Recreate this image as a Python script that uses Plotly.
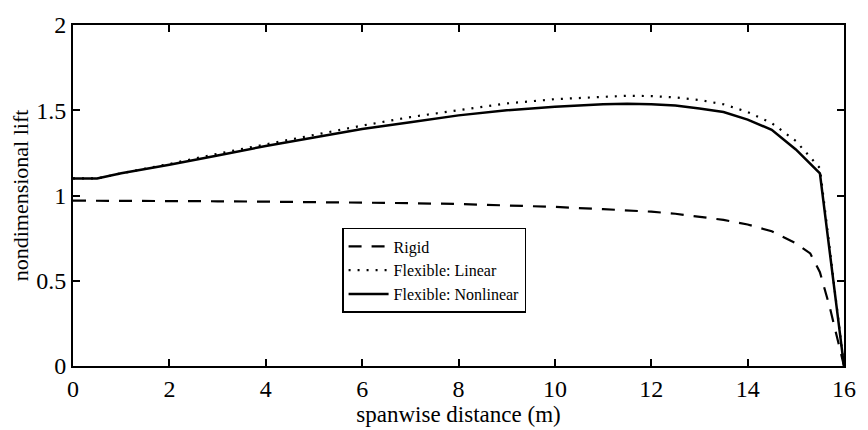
import plotly.graph_objects as go

# Data
x_rigid = [0, 1, 2, 3, 4, 5, 6, 7, 8, 9, 10, 11, 12, 12.5, 13, 13.5, 14, 14.5, 15, 15.3, 15.5, 15.7, 16]
y_rigid = [0.97, 0.97, 0.968, 0.966, 0.964, 0.962, 0.958, 0.955, 0.95, 0.943, 0.933, 0.92, 0.905, 0.893, 0.877, 0.857, 0.83, 0.79, 0.72, 0.66, 0.55, 0.35, 0.0]

x_lin = [0, 0.5, 1, 2, 3, 4, 5, 6, 7, 8, 9, 10, 11, 11.5, 12, 12.5, 13, 13.5, 14, 14.5, 15, 15.5, 16]
y_lin = [1.10, 1.10, 1.13, 1.185, 1.245, 1.30, 1.355, 1.41, 1.46, 1.50, 1.54, 1.565, 1.58, 1.585, 1.583, 1.575, 1.56, 1.535, 1.49, 1.425, 1.32, 1.16, 0.0]

x_nl = [0, 0.5, 1, 2, 3, 4, 5, 6, 7, 8, 9, 10, 11, 11.5, 12, 12.5, 13, 13.5, 14, 14.5, 15, 15.5, 16]
y_nl = [1.10, 1.10, 1.13, 1.18, 1.235, 1.29, 1.34, 1.39, 1.43, 1.47, 1.50, 1.52, 1.535, 1.538, 1.535, 1.528, 1.51, 1.49, 1.445, 1.385, 1.27, 1.13, 0.0]

x_ticks = [0, 2, 4, 6, 8, 10, 12, 14, 16]
y_ticks = [0, 0.5, 1, 1.5, 2]
y_tick_labels = ["0", "0.5", "1", "1.5", "2"]

fig = go.Figure()
fig.add_trace(go.Scatter(x=x_rigid, y=y_rigid, mode="lines", name="Rigid",
                         line=dict(color="black", width=2.2, dash="13px,10px")))
fig.add_trace(go.Scatter(x=x_lin, y=y_lin, mode="lines", name="Flexible: Linear",
                         line=dict(color="black", width=2.2, dash="2px,7px")))
fig.add_trace(go.Scatter(x=x_nl, y=y_nl, mode="lines", name="Flexible: Nonlinear",
                         line=dict(color="black", width=2.5)))

font_family = "Liberation Serif, Times New Roman, serif"
fig.update_layout(
    width=868, height=430,
    margin=dict(l=73, r=15, t=16, b=62),
    paper_bgcolor="white", plot_bgcolor="white",
    font=dict(family=font_family, color="black", size=18),
    legend=dict(x=0.349, y=0.405, xanchor="left", yanchor="top",
                bgcolor="white", bordercolor="black", borderwidth=1.5,
                font=dict(size=16, family=font_family, color="black"),
                tracegroupgap=0, itemwidth=40),
    showlegend=True,
)
fig.update_xaxes(range=[0, 16], tickvals=x_ticks, ticks="inside", ticklen=7,
                 tickcolor="black", tickwidth=1.5, showline=True, linecolor="black",
                 linewidth=2, mirror="ticks", showgrid=False, zeroline=False,
                 tickfont=dict(size=24, family=font_family),
                 title=dict(text="spanwise distance (m)", standoff=0,
                            font=dict(size=23, family=font_family)))
fig.update_yaxes(range=[0, 2], tickvals=y_ticks, ticktext=y_tick_labels, ticks="inside",
                 ticklen=7, tickcolor="black", tickwidth=1.5, showline=True,
                 linecolor="black", linewidth=2, mirror="ticks", showgrid=False,
                 zeroline=False, tickfont=dict(size=24, family=font_family),
                 title=dict(text="nondimensional lift", standoff=2,
                            font=dict(size=22, family=font_family)))

fig.write_html("out.html")
